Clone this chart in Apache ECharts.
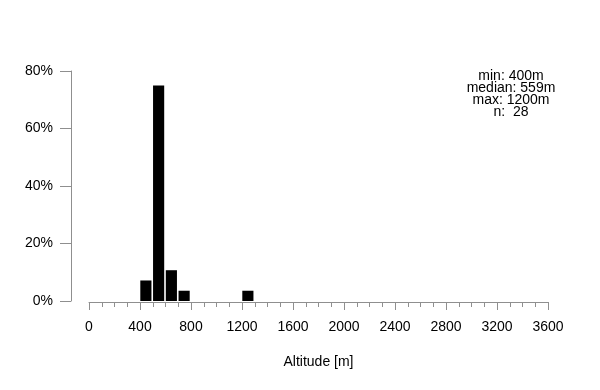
<!DOCTYPE html>
<html>
<head>
<meta charset="utf-8">
<script src="https://cdn.jsdelivr.net/npm/echarts@6/dist/echarts.min.js"></script>
<style>html,body{margin:0;padding:0;background:#fff}#c{width:600px;height:390px}</style>
</head>
<body>
<div id="c"></div>
<script>
var binStarts = [400, 500, 600, 700, 1200];
var binEnds = [500, 600, 700, 800, 1300];
var percents = [7.14, 75.0, 10.71, 3.57, 3.57];
var xTicks = [0, 400, 800, 1200, 1600, 2000, 2400, 2800, 3200, 3600];
var yTicks = [0, 20, 40, 60, 80];
var statsLines = ['min: 400m', 'median: 559m', 'max: 1200m', 'n:  28'];
var xName = 'Altitude [m]';

var font = 'Liberation Sans, Arial, sans-serif';
var axisGray = '#8f8f8f';
var chart = echarts.init(document.getElementById('c'), null, {renderer: 'canvas'});
var data = binStarts.map(function (s, i) { return [s, binEnds[i], percents[i]]; });

chart.setOption({
  animation: false,
  backgroundColor: '#fff',
  grid: {left: 89, right: 52, top: 71, bottom: 89},
  xAxis: {
    type: 'value',
    min: xTicks[0], max: xTicks[xTicks.length - 1], interval: 400,
    offset: 1,
    name: xName, nameLocation: 'middle', nameGap: 53,
    nameTextStyle: {fontFamily: font, fontSize: 14, color: '#000'},
    axisLine: {show: true, onZero: false, lineStyle: {color: axisGray, width: 1}},
    axisTick: {show: true, length: 8, lineStyle: {color: axisGray}},
    minorTick: {show: true, splitNumber: 4, length: 5, lineStyle: {color: axisGray}},
    axisLabel: {fontFamily: font, fontSize: 14, color: '#000', margin: 18, showMinLabel: true, showMaxLabel: true,
      formatter: function (v) { return String(v); }},
    splitLine: {show: false}
  },
  yAxis: {
    type: 'value',
    min: yTicks[0], max: yTicks[yTicks.length - 1], interval: 20,
    offset: 18,
    axisLine: {show: true, onZero: false, lineStyle: {color: axisGray, width: 1}},
    axisTick: {show: true, length: 11, lineStyle: {color: axisGray}},
    axisLabel: {fontFamily: font, fontSize: 14, color: '#000', margin: 18,
      formatter: function (v) { return v + '%'; }},
    splitLine: {show: false}
  },
  series: [{
    type: 'custom',
    data: data,
    encode: {x: [0, 1], y: 2},
    renderItem: function (params, api) {
      var p0 = api.coord([api.value(0), api.value(2)]);
      var p1 = api.coord([api.value(1), 0]);
      return {
        type: 'rect',
        shape: {x: p0[0] + 0.3, y: p0[1], width: p1[0] - p0[0] - 1.6, height: p1[1] - p0[1]},
        style: {fill: '#000'}
      };
    }
  }],
  graphic: [{
    type: 'text',
    x: 511, y: 70,
    style: {
      text: statsLines.join('\n'),
      font: '14px ' + font,
      fill: '#000',
      align: 'center',
      verticalAlign: 'top',
      lineHeight: 12
    }
  }]
});
</script>
</body>
</html>
